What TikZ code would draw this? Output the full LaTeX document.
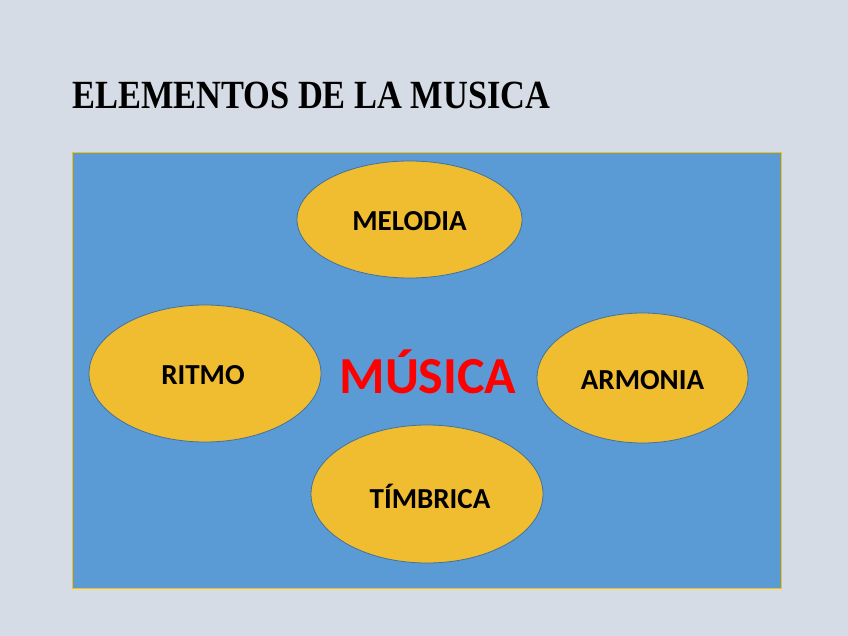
\documentclass[tikz,border=0pt]{standalone}
\usepackage{fontspec}
\setmainfont{Carlito}
\newfontfamily\titlefont{Liberation Serif}
\usetikzlibrary{shapes.geometric}
\definecolor{bgcol}{HTML}{D6DCE5}
\definecolor{boxblue}{HTML}{5B9BD5}
\definecolor{boxedge}{HTML}{FFC000}
\definecolor{ellfill}{HTML}{F0BC30}
\definecolor{elledge}{HTML}{41719C}
\tikzset{
  elem/.style={ellipse, draw=elledge, fill=ellfill, line width=0.8pt, inner sep=0pt},
  elemtext/.style={font=\bfseries\fontsize{29}{32}\selectfont, text=black},
}
\begin{document}
\begin{tikzpicture}[x=1pt,y=-1pt]
\fill[bgcol] (0,0) rectangle (848,636);
\useasboundingbox (0,0) rectangle (848,636);
\node[anchor=west, inner sep=0pt] (title) at (72,95)
  {\titlefont\bfseries\fontsize{40}{42}\selectfont\scalebox{0.86}[1.0]{ELEMENTOS DE LA MUSICA}};
\draw[boxedge, fill=boxblue, line width=1.2pt] (72.5,152.5) rectangle (781.5,588.5);
\node[elem, minimum width=225, minimum height=117] (melodia) at (409.5,219.5) {};
\node[elem, minimum width=232, minimum height=137] (ritmo) at (205,373.5) {};
\node[elem, minimum width=211, minimum height=130] (armonia) at (642.5,378) {};
\node[elem, minimum width=232, minimum height=138] (timbrica) at (427,494) {};
\node[elemtext] (tmel) at (409.5,221) {MELODIA};
\node[elemtext] (trit) at (203,375) {RITMO};
\node[elemtext] (tarm) at (642.5,380) {ARMONIA};
\node[elemtext] (ttim) at (430,496) {TÍMBRICA};
\node[font=\bfseries\fontsize{52}{56}\selectfont, text=red] (musica) at (428,372) {MÚSICA};
\end{tikzpicture}
\end{document}
